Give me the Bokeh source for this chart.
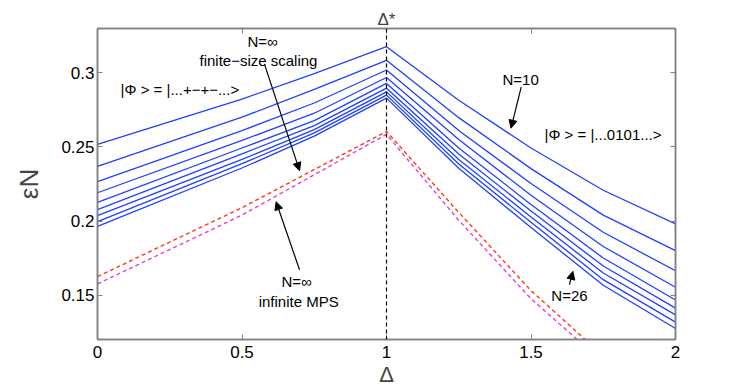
from bokeh.plotting import figure
from bokeh.models import Range1d, Span, Label, Arrow, NormalHead, LinearAxis, FixedTicker
from bokeh.embed import file_html
from bokeh.resources import INLINE

# ---- data ----
delta = [0, 0.5, 0.75, 1, 1.25, 1.5, 1.75, 2]
sizes = [10, 12, 14, 16, 18, 20, 22, 24, 26]
eps_N10 = [0.2517, 0.2823, 0.2996, 0.3177, 0.2815, 0.2493, 0.2208, 0.1981]
eps_N12 = [0.2369, 0.2701, 0.2889, 0.3085, 0.2698, 0.2354, 0.2040, 0.1800]
eps_N14 = [0.2266, 0.2611, 0.2797, 0.3020, 0.2611, 0.2253, 0.1924, 0.1664]
eps_N16 = [0.2191, 0.2544, 0.2728, 0.2969, 0.2550, 0.2174, 0.1828, 0.1553]
eps_N18 = [0.2126, 0.2493, 0.2678, 0.2929, 0.2493, 0.2112, 0.1750, 0.1467]
eps_N20 = [0.2077, 0.2454, 0.2644, 0.2897, 0.2452, 0.2067, 0.1696, 0.1412]
eps_N22 = [0.2036, 0.2416, 0.2617, 0.2872, 0.2416, 0.2027, 0.1649, 0.1366]
eps_N24 = [0.1996, 0.2387, 0.2595, 0.2850, 0.2385, 0.1991, 0.1604, 0.1317]
eps_N26 = [0.1964, 0.2358, 0.2573, 0.2830, 0.2356, 0.1956, 0.1566, 0.1274]
finite_series = [eps_N10, eps_N12, eps_N14, eps_N16, eps_N18, eps_N20, eps_N22, eps_N24, eps_N26]

delta_inf = [0, 0.5, 1, 1.25, 1.5, 1.75]
eps_inf_fss = [0.1625, 0.2090, 0.2605, 0.2058, 0.1530, 0.1090]
eps_inf_mps = [0.1575, 0.2040, 0.2585, 0.2005, 0.1475, 0.1045]

x_ticks = [0, 0.5, 1, 1.5, 2]
x_tick_labels = ["0", "0.5", "1", "1.5", "2"]
y_ticks = [0.15, 0.2, 0.25, 0.3]
y_tick_labels = ["0.15", "0.2", "0.25", "0.3"]

FONT = "Liberation Sans"
GRAY = "#808080"
BLUE = "#2040ff"
RED = "#ff3a10"
MAGENTA = "#dd44dd"

p = figure(width=738, height=389, x_range=Range1d(0, 2), y_range=Range1d(0.12, 0.33),
           output_backend="svg", toolbar_location=None,
           min_border_left=97, min_border_right=63, min_border_top=28, min_border_bottom=48)
p.grid.visible = False
p.outline_line_color = GRAY
p.outline_line_width = 1.5
p.background_fill_color = "white"
p.border_fill_color = "white"

# Δ* marker label above the frame (centered on Δ = 1)
p.title.text = "Δ*"
p.title.align = "center"
p.title.text_font = FONT
p.title.text_font_size = "17px"
p.title.text_font_style = "normal"
p.title.standoff = 0
p.title.offset = 2

def style_axis(ax, ticks, labels, show_labels=True):
    ax.ticker = FixedTicker(ticks=ticks)
    ax.major_tick_in = 5
    ax.major_tick_out = 0
    ax.minor_tick_line_color = None
    ax.major_tick_line_color = GRAY
    ax.axis_line_color = GRAY
    ax.axis_line_width = 1.5
    ax.major_label_text_font = FONT
    ax.major_label_text_color = "black"
    if show_labels:
        ax.major_label_overrides = {t: l for t, l in zip(ticks, labels)}
        ax.major_label_text_font_size = "17px"
    else:
        ax.major_label_overrides = {t: "" for t in ticks}
        ax.major_label_text_font_size = "1px"
        ax.major_label_standoff = 0

style_axis(p.xaxis[0], x_ticks, x_tick_labels)
p.xaxis[0].major_label_standoff = 6
p.xaxis[0].axis_label = "Δ"
p.xaxis[0].axis_label_text_font = FONT
p.xaxis[0].axis_label_text_font_size = "22px"
p.xaxis[0].axis_label_text_font_style = "normal"
p.xaxis[0].axis_label_standoff = 1

style_axis(p.yaxis[0], y_ticks, y_tick_labels)
p.yaxis[0].major_label_standoff = 3
p.yaxis[0].axis_label = "εN"
p.yaxis[0].axis_label_text_font = FONT
p.yaxis[0].axis_label_text_font_size = "26px"
p.yaxis[0].axis_label_text_font_style = "normal"
p.yaxis[0].axis_label_standoff = 14

top_ax = LinearAxis()
style_axis(top_ax, x_ticks, x_tick_labels, show_labels=False)
p.add_layout(top_ax, "above")
right_ax = LinearAxis()
style_axis(right_ax, y_ticks, y_tick_labels, show_labels=False)
p.add_layout(right_ax, "right")

# lines
p.line(delta_inf, eps_inf_mps, line_color=MAGENTA, line_width=1.4, line_dash="4 3")
p.line(delta_inf, eps_inf_fss, line_color=RED, line_width=1.4, line_dash="4 3")
for ser in finite_series:
    p.line(delta, ser, line_color=BLUE, line_width=1.3)

p.add_layout(Span(location=1, dimension="height", line_color="black",
                  line_dash="4 3", line_width=1.2))

def lab(x, y, text, size="15px", align="center", baseline="middle"):
    p.add_layout(Label(x=x, y=y, text=text, text_font=FONT, text_font_size=size,
                       text_align=align, text_baseline=baseline, text_color="black"))

lab(0.571, 0.3213, "N=∞")
lab(0.557, 0.3087, "finite−size scaling")
lab(0.080, 0.2890, "|Φ > = |...+−+−...>", align="left")
lab(1.464, 0.2958, "N=10")
lab(1.547, 0.2582, "|Φ > = |...0101...>", align="left")
lab(0.689, 0.1595, "N=∞")
lab(0.696, 0.1459, "infinite MPS")
lab(1.633, 0.1500, "N=26")

def arrow(x0, y0, x1, y1):
    p.add_layout(Arrow(end=NormalHead(size=8, fill_color="black", line_color="black"),
                       x_start=x0, y_start=y0, x_end=x1, y_end=y1,
                       line_color="black", line_width=1.2))

arrow(0.578, 0.3058, 0.699, 0.2340)
arrow(1.466, 0.2904, 1.431, 0.2627)
arrow(0.699, 0.1671, 0.618, 0.2130)
arrow(1.633, 0.1570, 1.645, 0.1660)

open("out.html", "w").write(file_html(p, INLINE))
